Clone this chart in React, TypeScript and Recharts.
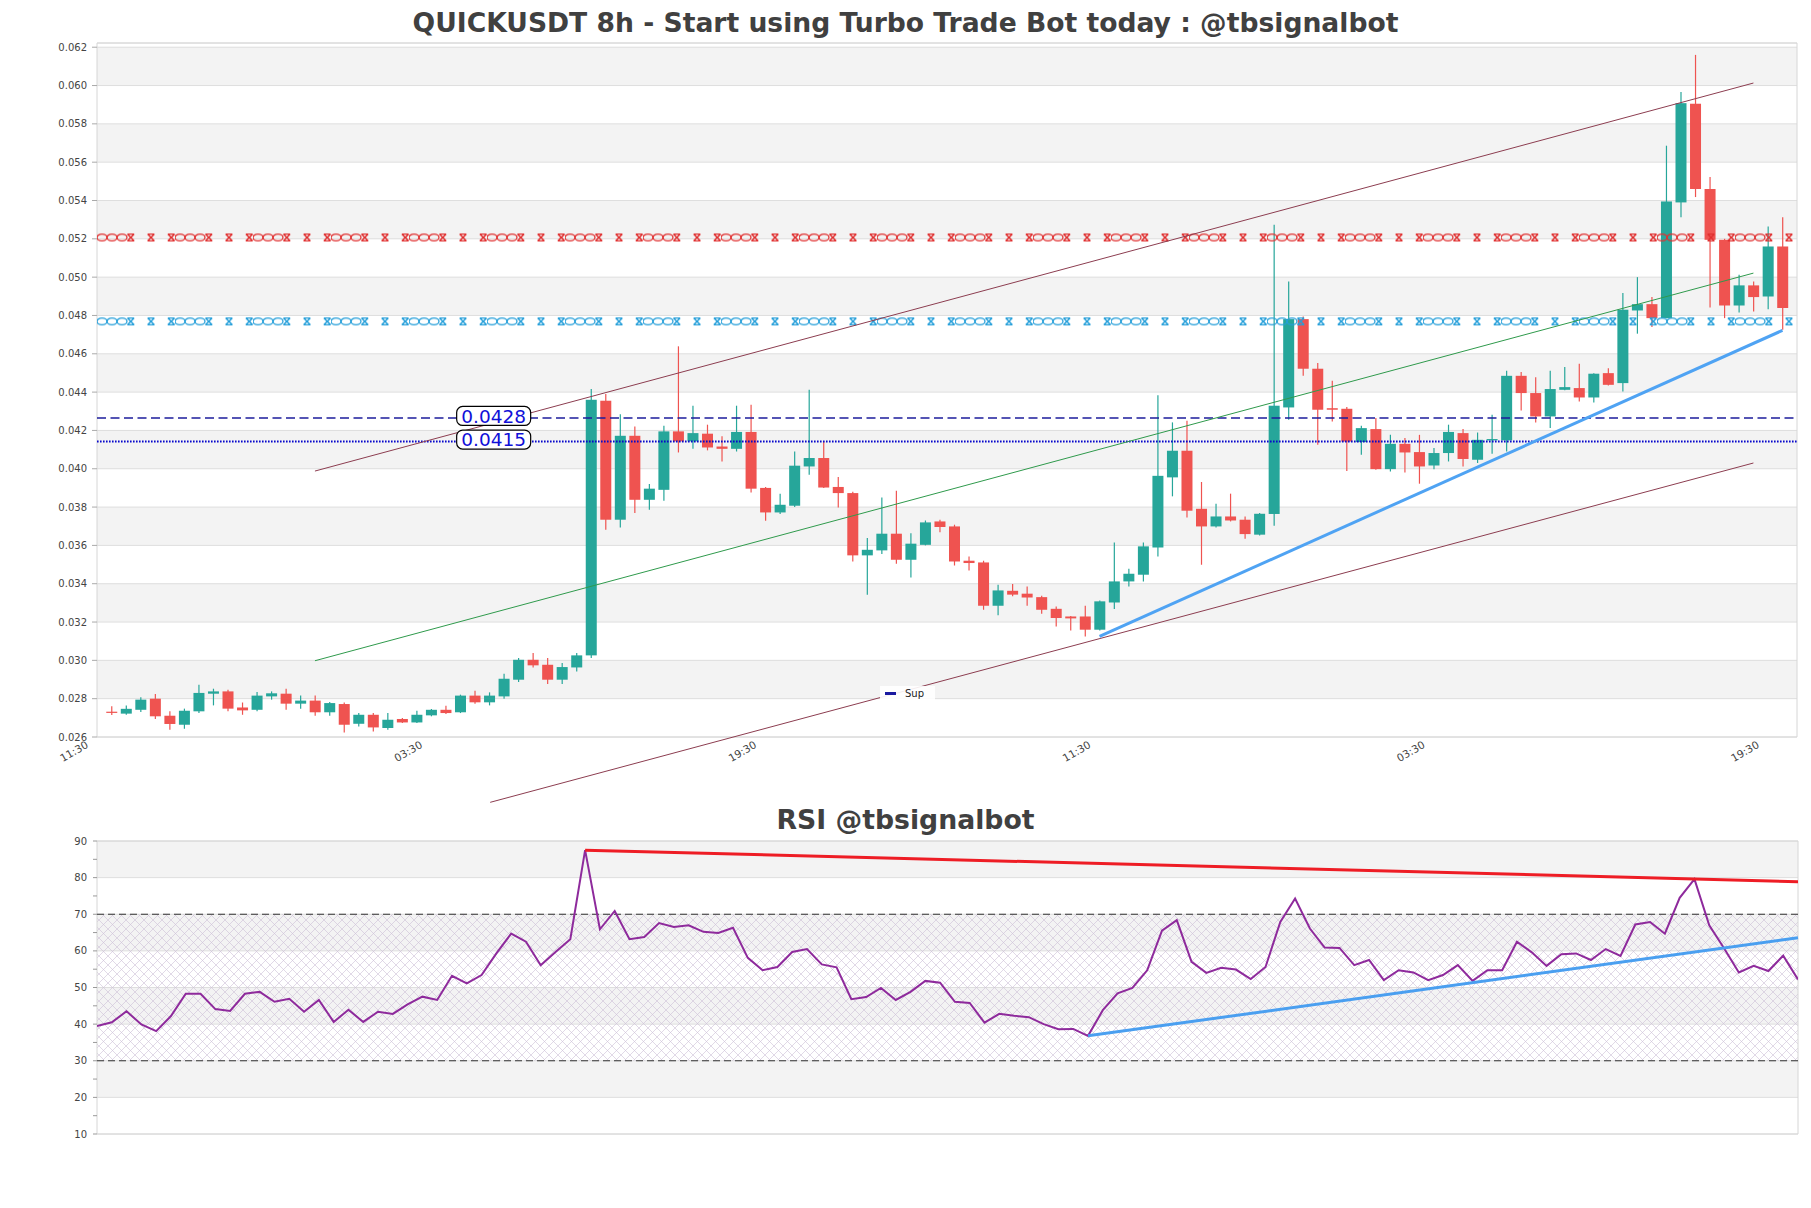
import React from 'react';
import {
  ComposedChart, Bar, Line, XAxis, YAxis, CartesianGrid,
  ReferenceLine, ReferenceArea, ReferenceDot,
} from 'recharts';

const FONT = 'DejaVu Sans';

// ---------- candle data (8h candles) ----------
const opens = [
  0.02732, 0.02722, 0.02742, 0.02800, 0.02711, 0.02664, 0.02734, 0.02826, 0.02838, 0.02754,
  0.02742, 0.02812, 0.02826, 0.02774, 0.02790, 0.02729, 0.02772, 0.02669, 0.02716, 0.02647,
  0.02694, 0.02676, 0.02713, 0.02742, 0.02729, 0.02816, 0.02781, 0.02812, 0.02899, 0.03003,
  0.02977, 0.02899, 0.02963, 0.03026, 0.04355, 0.03734, 0.04172, 0.03838, 0.03890, 0.04195,
  0.04143, 0.04183, 0.04116, 0.04104, 0.04192, 0.03900, 0.03772, 0.03807, 0.04012, 0.04056,
  0.03905, 0.03873, 0.03548, 0.03574, 0.03661, 0.03525, 0.03603, 0.03725, 0.03699, 0.03520,
  0.03511, 0.03285, 0.03363, 0.03348, 0.03330, 0.03269, 0.03229, 0.03229, 0.03160, 0.03302,
  0.03412, 0.03447, 0.03589, 0.03955, 0.04094, 0.03791, 0.03699, 0.03751, 0.03734, 0.03656,
  0.03764, 0.04320, 0.04781, 0.04522, 0.04316, 0.04313, 0.04139, 0.04207, 0.03998, 0.04130,
  0.04087, 0.04017, 0.04082, 0.04186, 0.04047, 0.04148, 0.04148, 0.04485, 0.04395, 0.04273,
  0.04412, 0.04421, 0.04372, 0.04499, 0.04447, 0.04826, 0.04859, 0.04786, 0.05390, 0.05905,
  0.05460, 0.05195, 0.04852, 0.04957, 0.04899, 0.05160,
];
const highs = [
  0.02760, 0.02765, 0.02807, 0.02824, 0.02734, 0.02748, 0.02873, 0.02852, 0.02847, 0.02780,
  0.02835, 0.02838, 0.02852, 0.02817, 0.02817, 0.02783, 0.02780, 0.02725, 0.02725, 0.02725,
  0.02699, 0.02737, 0.02746, 0.02763, 0.02821, 0.02842, 0.02833, 0.02930, 0.03012, 0.03038,
  0.03012, 0.02986, 0.03038, 0.04416, 0.04390, 0.04285, 0.04221, 0.03920, 0.04224, 0.04639,
  0.04329, 0.04230, 0.04169, 0.04329, 0.04334, 0.03905, 0.03870, 0.04090, 0.04412, 0.04143,
  0.03957, 0.03880, 0.03638, 0.03850, 0.03885, 0.03664, 0.03730, 0.03734, 0.03708, 0.03542,
  0.03520, 0.03395, 0.03398, 0.03386, 0.03337, 0.03281, 0.03232, 0.03285, 0.03313, 0.03615,
  0.03478, 0.03615, 0.04383, 0.04242, 0.04250, 0.03931, 0.03817, 0.03870, 0.03751, 0.03769,
  0.05273, 0.04977, 0.04795, 0.04552, 0.04459, 0.04322, 0.04224, 0.04265, 0.04177, 0.04160,
  0.04177, 0.04108, 0.04230, 0.04207, 0.04189, 0.04282, 0.04511, 0.04505, 0.04478, 0.04511,
  0.04531, 0.04548, 0.04499, 0.04525, 0.04917, 0.05000, 0.04896, 0.05686, 0.05966, 0.06160,
  0.05522, 0.05200, 0.05012, 0.04977, 0.05264, 0.05313,
];
const lows = [
  0.02715, 0.02716, 0.02730, 0.02694, 0.02638, 0.02643, 0.02725, 0.02765, 0.02734, 0.02716,
  0.02734, 0.02795, 0.02742, 0.02748, 0.02711, 0.02711, 0.02624, 0.02655, 0.02629, 0.02638,
  0.02673, 0.02673, 0.02708, 0.02720, 0.02725, 0.02774, 0.02765, 0.02800, 0.02887, 0.02963,
  0.02877, 0.02877, 0.02942, 0.03012, 0.03682, 0.03694, 0.03769, 0.03786, 0.03833, 0.04085,
  0.04105, 0.04096, 0.04038, 0.04090, 0.03876, 0.03729, 0.03764, 0.03800, 0.03969, 0.03900,
  0.03798, 0.03516, 0.03343, 0.03555, 0.03504, 0.03433, 0.03600, 0.03668, 0.03495, 0.03469,
  0.03264, 0.03235, 0.03334, 0.03285, 0.03243, 0.03177, 0.03156, 0.03125, 0.03156, 0.03268,
  0.03386, 0.03412, 0.03542, 0.03856, 0.03746, 0.03499, 0.03694, 0.03725, 0.03635, 0.03652,
  0.03703, 0.04256, 0.04485, 0.04125, 0.04247, 0.03988, 0.04073, 0.03995, 0.03986, 0.03981,
  0.03922, 0.03998, 0.04038, 0.04012, 0.04030, 0.04078, 0.04090, 0.04304, 0.04242, 0.04213,
  0.04410, 0.04351, 0.04346, 0.04435, 0.04403, 0.04705, 0.04740, 0.04786, 0.05312, 0.05418,
  0.04842, 0.04786, 0.04816, 0.04821, 0.04833, 0.04725,
];
const closes = [
  0.02730, 0.02747, 0.02795, 0.02708, 0.02668, 0.02737, 0.02830, 0.02838, 0.02748, 0.02739,
  0.02816, 0.02828, 0.02774, 0.02790, 0.02729, 0.02777, 0.02664, 0.02716, 0.02650, 0.02690,
  0.02676, 0.02716, 0.02742, 0.02725, 0.02816, 0.02781, 0.02816, 0.02904, 0.03003, 0.02974,
  0.02899, 0.02965, 0.03026, 0.04360, 0.03734, 0.04172, 0.03838, 0.03896, 0.04195, 0.04143,
  0.04186, 0.04111, 0.04104, 0.04192, 0.03896, 0.03772, 0.03812, 0.04016, 0.04056, 0.03902,
  0.03873, 0.03548, 0.03577, 0.03661, 0.03525, 0.03609, 0.03720, 0.03696, 0.03516, 0.03508,
  0.03285, 0.03365, 0.03343, 0.03328, 0.03264, 0.03221, 0.03219, 0.03160, 0.03308, 0.03412,
  0.03452, 0.03595, 0.03963, 0.04094, 0.03781, 0.03699, 0.03751, 0.03730, 0.03659, 0.03765,
  0.04329, 0.04781, 0.04522, 0.04308, 0.04308, 0.04142, 0.04212, 0.03998, 0.04130, 0.04085,
  0.04012, 0.04082, 0.04192, 0.04051, 0.04151, 0.04155, 0.04485, 0.04395, 0.04273, 0.04416,
  0.04426, 0.04372, 0.04496, 0.04438, 0.04830, 0.04859, 0.04786, 0.05395, 0.05908, 0.05460,
  0.05195, 0.04852, 0.04957, 0.04896, 0.05160, 0.04839,
];

// ---------- RSI ----------
const rsiValues = [
  39.5, 40.5, 43.5, 39.9, 38.1, 42.2, 48.3, 48.3, 44.1, 43.6,
  48.3, 48.8, 46.1, 46.9, 43.4, 46.6, 40.6, 43.9, 40.6, 43.4,
  42.8, 45.4, 47.5, 46.6, 53.2, 51.1, 53.4, 59.3, 64.7, 62.5,
  56.1, 59.7, 63.2, 87.5, 65.9, 70.9, 63.2, 63.8, 67.6, 66.5,
  67.0, 65.2, 64.9, 66.3, 58.1, 54.7, 55.6, 59.7, 60.5, 56.3,
  55.5, 46.8, 47.4, 49.9, 46.6, 48.8, 51.8, 51.3, 46.1, 45.8,
  40.4, 42.8, 42.3, 41.9, 40.0, 38.6, 38.7, 36.8, 43.8, 48.4,
  49.9, 54.7, 65.5, 68.4, 57.0, 54.0, 55.4, 54.9, 52.3, 55.6,
  67.9, 74.3, 66.1, 60.9, 60.8, 56.1, 57.5, 52.0, 54.7, 54.1,
  52.0, 53.4, 56.1, 51.8, 54.7, 54.7, 62.5, 59.6, 55.9, 59.1,
  59.3, 57.5, 60.5, 58.6, 67.2, 67.9, 64.7, 74.5, 79.6, 67.0,
  60.7, 54.1, 55.9, 54.5, 58.7, 52.2,
];

// ---------- axes ----------
const xTickIdx = [-1, 22, 45, 68, 91, 114];
const xTickLabels = ['11:30', '03:30', '19:30', '11:30', '03:30', '19:30'];
const priceTicks = [0.026, 0.028, 0.030, 0.032, 0.034, 0.036, 0.038, 0.040, 0.042, 0.044,
  0.046, 0.048, 0.050, 0.052, 0.054, 0.056, 0.058, 0.060, 0.062];
const priceDomain = [0.026, 0.06222];
const rsiTicks = [10, 15, 20, 25, 30, 35, 40, 45, 50, 55, 60, 65, 70, 75, 80, 85, 90];
const rsiGrid = [10, 20, 30, 40, 50, 60, 70, 80, 90];

// ---------- levels & trend lines ----------
const resistanceLevel = 0.05207;
const supportLevel = 0.04769;
const dashedLevel = 0.04265;
const dashedLevelLabel = '0.0428';
const dottedLevel = 0.04142;
const dottedLevelLabel = '0.0415';
const levelLabelIdx = 26.3;

const channelUpper = [{ x: 14, y: 0.03988 }, { x: 113, y: 0.06013 }];
const channelMid = [{ x: 14, y: 0.02998 }, { x: 113, y: 0.05021 }];
const channelLower = [{ x: 26.06, y: 0.02259 }, { x: 113, y: 0.0403 }];
const supportTrend = [{ x: 68, y: 0.03125 }, { x: 115, y: 0.04722 }];
const rsiResTrend = [{ x: 33, y: 87.5 }, { x: 115, y: 78.9 }];
const rsiSupTrend = [{ x: 67, y: 36.8 }, { x: 115, y: 63.6 }];

const candles = opens.map((o, i) => ({ i, open: o, high: highs[i], low: lows[i], close: closes[i] }));
const rsiData = rsiValues.map((v, i) => ({ i, rsi: v }));

const UP = '#26a69a';
const DOWN = '#ef5350';

function Candle(props: any) {
  const { x, y, width, height, payload } = props;
  if (!payload) return null;
  const { open, close, high, low } = payload;
  const top = Math.min(y, y + height);
  const h = Math.abs(height);
  const cx = x + width / 2;
  const py = (v: number) => top + ((high - v) / (high - low || 1)) * h;
  const color = close >= open ? UP : DOWN;
  const bTop = py(Math.max(open, close));
  const bBot = py(Math.min(open, close));
  return (
    <g>
      <line x1={cx} x2={cx} y1={top} y2={top + h} stroke={color} strokeWidth={1.2} />
      <rect x={cx - 5.5} y={bTop} width={11} height={Math.max(bBot - bTop, 1.2)} fill={color} />
    </g>
  );
}

// marker pattern along a level line: "ooo x x x" repeating
function xoShape(color: string, id: string) {
  return (p: any) => {
    const x1 = Math.min(p.x1, p.x2);
    const x2 = Math.max(p.x1, p.x2);
    const y = p.y1;
    const period = 78;
    const os = [5, 15, 25];
    const xs = [33.8, 54, 74.2];
    return (
      <g>
        <defs>
          <pattern id={id} patternUnits="userSpaceOnUse" x={x1} y={y - 5} width={period} height={10}>
            {xs.map((c) => (
              <path key={`x${c}`}
                d={`M${c - 3.4},1.6 L${c + 3.4},8.4 M${c + 3.4},1.6 L${c - 3.4},8.4 M${c - 3.4},1.6 L${c + 3.4},1.6 M${c - 3.4},8.4 L${c + 3.4},8.4`}
                stroke={color} strokeWidth={1.4} fill="none" />
            ))}
            {os.map((c) => (
              <ellipse key={`o${c}`} cx={c} cy={5} rx={5} ry={3.3} stroke={color} strokeWidth={1.3} fill="none" />
            ))}
          </pattern>
        </defs>
        <rect x={x1} y={y - 5} width={x2 - x1} height={10} fill={`url(#${id})`} />
      </g>
    );
  };
}

function levelTag(text: string) {
  return (p: any) => {
    const { cx, cy } = p;
    return (
      <g>
        <rect x={cx - 37} y={cy - 11.5} width={74} height={19} rx={6} fill="#ffffff" stroke="#000" strokeWidth={1.2} />
        <text x={cx} y={cy - 2} dy="0.36em" textAnchor="middle" fontSize={18.5} fill="#1010d8" fontFamily={FONT}>{text}</text>
      </g>
    );
  };
}

function XTick(props: any) {
  const { x, y, payload } = props;
  const k = xTickIdx.indexOf(payload.value);
  const ax = x - 8;
  const ay = y + 4;
  return (
    <text x={ax} y={ay} transform={`rotate(-30 ${ax} ${ay})`} textAnchor="end" fontSize={10.5}
      fill="#444" fontFamily={FONT}>
      {k >= 0 ? xTickLabels[k] : ''}
    </text>
  );
}

function Hatch(props: any) {
  const { x, y, width, height } = props;
  return (
    <g>
      <defs>
        <pattern id="rsiHatch" patternUnits="userSpaceOnUse" width={9} height={9}>
          <path d="M0,0 L9,9 M9,0 L0,9" stroke="#cdbfd6" strokeWidth={0.6} fill="none" />
        </pattern>
      </defs>
      <rect x={x} y={y} width={width} height={height} fill="url(#rsiHatch)" />
    </g>
  );
}

export default function App() {
  return (
    <div style={{ position: 'absolute', left: 0, top: 0, width: 1811, height: 1208, background: '#fff', overflow: 'hidden' }}>
      <div style={{ position: 'absolute', left: 0, top: 0 }}>
        <ComposedChart width={1811} height={815} data={candles} margin={{ top: 43, right: 14, bottom: 48, left: 37 }}>
          <CartesianGrid vertical={false} stroke="#dedede" horizontalFill={['#ffffff', '#f3f3f3']} />
          <XAxis type="number" dataKey="i" domain={[-1, 116]} ticks={xTickIdx} interval={0}
            tick={(p: any) => <XTick {...p} />} tickLine={false} axisLine={false} height={30}
            tickSize={4} tickMargin={2} allowDataOverflow />
          <YAxis type="number" domain={priceDomain} ticks={priceTicks} interval={0} allowDataOverflow
            tickFormatter={(v: number) => v.toFixed(3)} width={60} tickSize={5} tickMargin={5}
            axisLine={false} tickLine={{ stroke: '#aaa' }}
            tick={{ fontSize: 10, fill: '#444', fontFamily: FONT }} />
          <ReferenceArea y1={priceDomain[0]} y2={priceDomain[1]} fill="none" stroke="#d6d6d6" strokeWidth={1} />
          <Bar dataKey={(d: any) => [d.low, d.high]} shape={Candle} barSize={11} isAnimationActive={false} />
          <ReferenceLine y={resistanceLevel} shape={xoShape('#e02e2e', 'xoRes')} />
          <ReferenceLine y={supportLevel} shape={xoShape('#249ed9', 'xoSup')} />
          <ReferenceLine y={dashedLevel} stroke="#1c1c9c" strokeWidth={1.5} strokeDasharray="9 4.5" />
          <ReferenceLine y={dottedLevel} stroke="#0808cc" strokeWidth={2} strokeDasharray="1.6 1.4" />
          <ReferenceLine segment={channelUpper} stroke="#8c3d50" strokeWidth={1} ifOverflow="visible" />
          <ReferenceLine segment={channelMid} stroke="#2f9a4c" strokeWidth={1} ifOverflow="visible" />
          <ReferenceLine segment={channelLower} stroke="#8c3d50" strokeWidth={1} ifOverflow="visible" />
          <ReferenceLine segment={supportTrend} stroke="#4fa3f3" strokeWidth={3} ifOverflow="visible" />
          <ReferenceDot x={levelLabelIdx} y={dashedLevel} shape={levelTag(dashedLevelLabel)} ifOverflow="visible" />
          <ReferenceDot x={levelLabelIdx} y={dottedLevel} shape={levelTag(dottedLevelLabel)} ifOverflow="visible" />
        </ComposedChart>
      </div>

      <div style={{ position: 'absolute', left: 0, top: 830 }}>
        <ComposedChart width={1811} height={378} data={rsiData} margin={{ top: 11, right: 13, bottom: 74, left: 37 }}>
          <CartesianGrid vertical={false} horizontalValues={rsiGrid} stroke="#dedede" horizontalFill={['#f3f3f3', '#ffffff']} />
          <XAxis type="number" dataKey="i" domain={[0, 115]} hide allowDataOverflow />
          <YAxis type="number" domain={[10, 90]} ticks={rsiTicks} interval={0} allowDataOverflow
            tickFormatter={(v: number) => (v % 10 === 0 ? String(v) : '')} width={60} tickSize={4} tickMargin={6}
            axisLine={false} tickLine={{ stroke: '#999' }}
            tick={{ fontSize: 10, fill: '#444', fontFamily: FONT }} />
          <ReferenceArea y1={30} y2={70} shape={Hatch} />
          <ReferenceLine y={70} stroke="#333" strokeWidth={1.1} strokeDasharray="7 4" />
          <ReferenceLine y={30} stroke="#333" strokeWidth={1.1} strokeDasharray="7 4" />
          <Line type="linear" dataKey="rsi" stroke="#8e2a9c" strokeWidth={2} dot={false} isAnimationActive={false} />
          <ReferenceLine segment={rsiResTrend} stroke="#ee1d25" strokeWidth={3} ifOverflow="visible" />
          <ReferenceLine segment={rsiSupTrend} stroke="#4a9ff0" strokeWidth={3} ifOverflow="visible" />
          <ReferenceArea y1={10} y2={90} fill="none" stroke="#d6d6d6" strokeWidth={1} />
        </ComposedChart>
      </div>

      <div style={{ position: 'absolute', left: 0, top: 10, width: 1811, textAlign: 'center', fontFamily: FONT, fontWeight: 'bold', fontSize: 26.6, lineHeight: '26px', color: '#404040' }}>
        QUICKUSDT 8h - Start using Turbo Trade Bot today : @tbsignalbot
      </div>
      <div style={{ position: 'absolute', left: 0, top: 807, width: 1811, textAlign: 'center', fontFamily: FONT, fontWeight: 'bold', fontSize: 26.7, lineHeight: '26px', color: '#404040' }}>
        RSI @tbsignalbot
      </div>

      <div style={{ position: 'absolute', left: 880, top: 686, width: 55, height: 15, background: 'rgba(255,255,255,0.9)', display: 'flex', alignItems: 'center', fontFamily: FONT, fontSize: 10, color: '#222' }}>
        <span style={{ display: 'inline-block', width: 11, height: 2.5, background: '#1a1aa0', marginLeft: 5, marginRight: 9 }} />
        <span>Sup</span>
      </div>
    </div>
  );
}
